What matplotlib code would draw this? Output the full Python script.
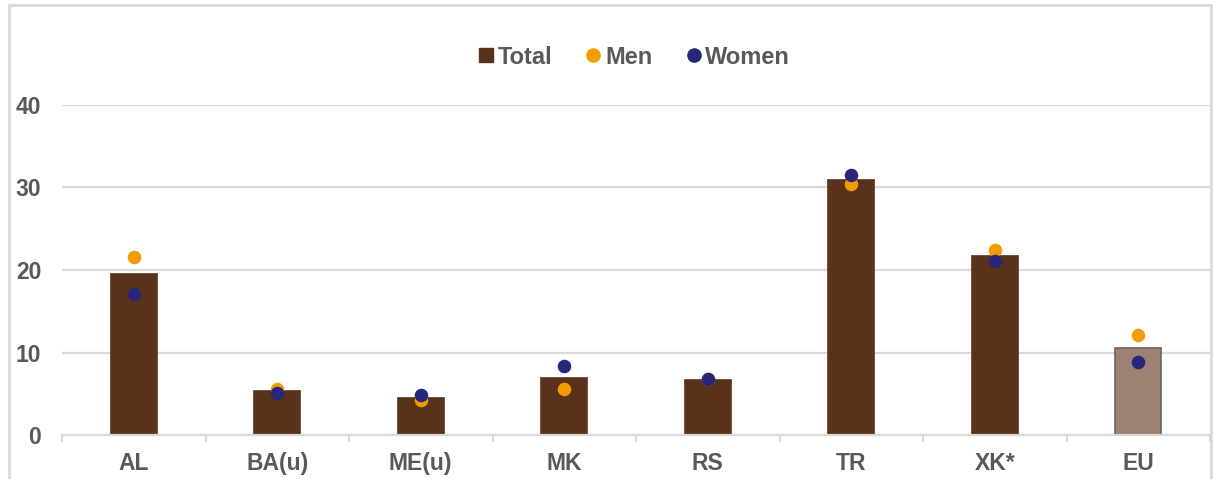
import matplotlib
matplotlib.use("Agg")
import matplotlib.pyplot as plt
import numpy as np
from matplotlib.patches import Rectangle
from matplotlib.lines import Line2D

categories = ["AL", "BA(u)", "ME(u)", "MK", "RS", "TR", "XK*", "EU"]
total = [19.5, 5.3, 4.5, 6.9, 6.7, 30.9, 21.7, 10.5]
men = [21.6, 5.6, 4.2, 5.6, 6.8, 30.4, 22.4, 12.1]
women = [17.1, 5.1, 4.8, 8.4, 6.8, 31.5, 21.1, 8.8]

BROWN = "#58321a"
EU_FILL = "#9d8172"
ORANGE = "#f39c00"
NAVY = "#27267a"
GRID = "#d9d9d9"
TEXT = "#595959"

plt.rcParams["font.family"] = ["Liberation Sans", "DejaVu Sans"]
plt.rcParams["font.weight"] = "bold"

W, H = 1213, 479
fig = plt.figure(figsize=(W / 100, H / 100), dpi=100)
ax = fig.add_axes([62 / W, (H - 435) / H, (1210 - 62) / W, (435 - 105) / H])

x = np.arange(len(categories))
colors = [BROWN] * (len(categories) - 1) + [EU_FILL]
edges = [BROWN] * (len(categories) - 1) + ["#666666"]
ax.bar(x, total, width=0.32, color=colors, edgecolor=edges, linewidth=1.2, zorder=2)
ax.scatter(x, men, s=95, color=ORANGE, zorder=3, linewidths=0)
ax.scatter(x, women, s=95, color=NAVY, zorder=4, linewidths=0)

ax.set_xlim(-0.5, len(categories) - 0.5)
ax.set_ylim(0, 40)
ax.set_yticks([0, 10, 20, 30, 40])
ax.yaxis.grid(True, color=GRID, linewidth=1.6, zorder=0)
ax.set_axisbelow(True)

for side in ["left", "right", "top"]:
    ax.spines[side].set_visible(False)
ax.spines["bottom"].set_color(GRID)
ax.spines["bottom"].set_linewidth(1.6)

ax.set_xticks(x)
ax.set_xticklabels(categories)
ax.set_xticks(np.arange(len(categories) + 1) - 0.5, minor=True)
ax.tick_params(axis="x", which="major", length=0, pad=12, labelsize=16.5, labelcolor=TEXT)
ax.tick_params(axis="x", which="minor", length=5, width=1.5, color=GRID)
ax.tick_params(axis="y", length=0, pad=15, labelsize=16.5, labelcolor=TEXT)

# chart border
fig.patches.append(Rectangle((9 / W, -0.05), (1211 - 9) / W, 1.05 - 5 / H,
                             transform=fig.transFigure, fill=False,
                             edgecolor=GRID, linewidth=2))

handles = [
    Line2D([], [], marker="s", linestyle="none", color=BROWN, markersize=10),
    Line2D([], [], marker="o", linestyle="none", color=ORANGE, markersize=9.5),
    Line2D([], [], marker="o", linestyle="none", color=NAVY, markersize=9.5),
]
fig.legend(handles, ["Total", "Men", "Women"], loc="center",
           bbox_to_anchor=(632 / W, 1 - 57 / H), ncol=3, frameon=False,
           handletextpad=0.0, columnspacing=1.25, handlelength=1.0,
           labelcolor=TEXT, prop={"size": 17, "weight": "bold"})

fig.savefig("out.png", dpi=100)
